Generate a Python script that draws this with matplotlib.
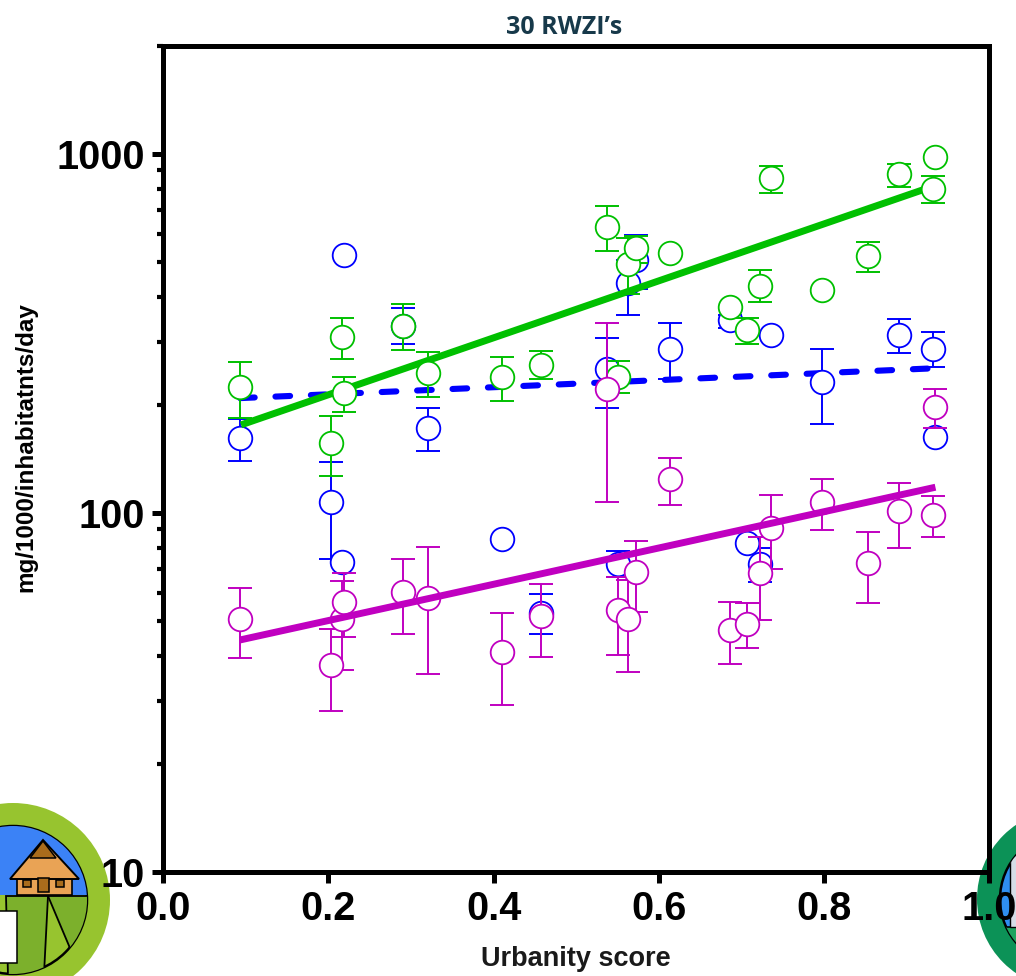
import matplotlib
matplotlib.use("Agg")
import matplotlib.pyplot as plt
from matplotlib.patches import Circle, Polygon, Rectangle, Wedge
from matplotlib.ticker import NullFormatter, FixedLocator

nan = float("nan")

# urbanity score of each treatment plant
urbanity = [.0932, .2034, .2167, .2191, .2906, .3208, .4104, .4576, .5375, .5508, .563,
            .5726, .6138, .6865, .707, .7228, .7361, .7978, .8535, .8911, .9322, .9346]

green_y = [224, 157, 309, 216, 332, 245, 239, 258, 627, 240, 493,
           547, 530, 375, 324, 430, 855, 418, 520, 879, 800, 981]
green_hi = [263, 186, 350, 239, 382, 281, 272, 283, 717, 265, 583,
            591, nan, nan, 350, 475, 926, nan, 569, 938, 868, nan]
green_lo = [184, 127, 269, 191, 284, 210, 205, 236, 537, 216, 407,
            497, nan, nan, 296, 387, 779, nan, 469, 809, 730, nan]

blue_y = [162, 107, 73, 524, 332, 172, 84.6, 52.7, 252, 72, 438,
          507, 286, 345, 82.5, 72, 313, 232, nan, 313, 286, 163]
blue_hi = [183, 139, nan, nan, 372, 196, nan, 59.5, 308, 78.4, 507,
           595, 339, 356, nan, 80, nan, 286, nan, 347, 319, nan]
blue_lo = [140, 74.5, nan, nan, 296, 149, nan, 46, 196, 66.3, 356,
           421, 236, 328, nan, 64.3, nan, 177, nan, 279, 255, nan]

magenta_y = [50.7, 37.7, 50.7, 56.5, 60.2, 58, 41, 51.7, 222, 53.7, 50.7,
             68.5, 124, 47.2, 49, 68.1, 90.8, 107, 72.5, 101, 98.7, 197]
magenta_hi = [62, 47.5, 64.7, 68.1, 74.5, 80.5, 52.7, 63.4, 339, 66.3, 65.2,
              83.6, 142, 56.5, 56, 85.5, 112, 124, 88.5, 121, 111.5, 222]
magenta_lo = [39.5, 28.1, 36.5, 45.1, 46, 35.6, 29.2, 39.8, 107, 40.2, 36,
              53, 105, 38, 42.1, 50.3, 70, 89.8, 56, 80, 86, 172]

# fitted lines, start and end
green_fit_x, green_fit_y = [.0944, .9200], [176, 796]
blue_fit_x, blue_fit_y = [.0932, .9322], [209, 253]
magenta_fit_x, magenta_fit_y = [.0932, .9346], [44.3, 118]

GREEN = "#00c000"
BLUE = "#0000ff"
MAGENTA = "#c000c0"

plt.rcParams["font.family"] = ["Liberation Sans", "DejaVu Sans"]

fig = plt.figure(figsize=(10.16, 9.76), dpi=100, facecolor="white")


# logos in the two bottom corners, in pixels
bg = fig.add_axes([0, 0, 1, 1], zorder=0)
bg.set_xlim(0, 1016)
bg.set_ylim(976, 0)
bg.axis("off")


def farm_logo():
    cx, cy = 13, 900
    bg.add_patch(Circle((cx, cy), 97, fc="#97c42f", ec="none"))
    inner = Circle((cx, cy), 74, fc="#97c42f", ec="black", lw=1.8, zorder=2)
    bg.add_patch(inner)
    sky = Wedge((cx, cy), 73, 180, 360, fc="#3b82f6", ec="none", zorder=2.1)
    bg.add_patch(sky)
    sky2 = Rectangle((-70, 826), 160, 69, fc="#3b82f6", ec="none", zorder=2.1)
    bg.add_patch(sky2)
    sky2.set_clip_path(inner)
    sky.set_visible(False)
    for pts, col in [([(48, 896), (90, 896), (87, 935), (75, 960)], "#7cb02c"),
                     ([(6, 896), (48, 896), (46, 935), (44, 974), (8, 976)], "#7cb02c")]:
        p = Polygon(pts, closed=True, fc=col, ec="black", lw=1.3, zorder=2.2)
        bg.add_patch(p)
        p.set_clip_path(inner)
    bg.add_patch(Rectangle((17, 875), 55, 20, fc="#e9a355", ec="black", lw=1.2, zorder=2.4))
    bg.add_patch(Polygon([(43, 840), (10, 879), (79, 879)], closed=True,
                         fc="#e9a355", ec="black", lw=1.4, zorder=2.5))
    bg.add_patch(Polygon([(43, 841), (30, 858), (56, 858)], closed=True,
                         fc="#a96c1c", ec="black", lw=1.1, zorder=2.6))
    bg.add_patch(Rectangle((38, 878), 11, 14, fc="#a96c1c", ec="black", lw=1.1, zorder=2.7))
    for wx in (23, 56):
        bg.add_patch(Rectangle((wx, 880), 8, 7, fc="#a96c1c", ec="black", lw=1.1, zorder=2.7))
    bg.add_patch(Rectangle((-5, 911), 22, 52, fc="white", ec="black", lw=1.1, zorder=2.8))


def city_logo():
    cx, cy = 1067, 899
    bg.add_patch(Circle((cx, cy), 90, fc="#0c9257", ec="none"))
    inner = Circle((cx, cy), 67, fc="#2f8ef0", ec="black", lw=1.8, zorder=2)
    bg.add_patch(inner)
    ground = Rectangle((990, 927), 60, 50, fc="#1fa35f", ec="black", lw=1.2, zorder=2.2)
    bg.add_patch(ground)
    ground.set_clip_path(inner)
    bld = Rectangle((1010, 855), 12, 72, fc="#d5dde6", ec="black", lw=1, zorder=2.3)
    bg.add_patch(bld)
    bld.set_clip_path(inner)


farm_logo()
city_logo()

# main plot
ax = fig.add_axes([163 / 1016, 1 - 872 / 976, (989.5 - 163) / 1016, (872 - 46) / 976], zorder=1)
ax.patch.set_alpha(0)
ax.set_xscale("linear")
ax.set_yscale("log")
ax.set_xlim(0, 1)
ax.set_ylim(10, 2000)


def draw_series(y, lo, hi, color, z):
    low = [a - b for a, b in zip(y, lo)]
    high = [b - a for a, b in zip(y, hi)]
    ax.errorbar(urbanity, y, yerr=[low, high], fmt="none", ecolor=color, elinewidth=1.4,
                capsize=8.8, capthick=1.4, zorder=z, clip_on=False)
    ax.plot(urbanity, y, "o", ms=17, mfc="white", mec=color, mew=1.3, zorder=z + 0.1,
            linestyle="none", clip_on=False)


ax.plot(blue_fit_x, blue_fit_y, color=BLUE, lw=4.4, dashes=(2.4, 3.4),
        dash_capstyle="round", zorder=2)
draw_series(blue_y, blue_lo, blue_hi, BLUE, 3)
ax.plot(green_fit_x, green_fit_y, color=GREEN, lw=5, solid_capstyle="butt", zorder=4)
draw_series(green_y, green_lo, green_hi, GREEN, 5)
draw_series(magenta_y, magenta_lo, magenta_hi, MAGENTA, 6)
ax.plot(magenta_fit_x, magenta_fit_y, color=MAGENTA, lw=5, solid_capstyle="butt", zorder=7)

for s in ax.spines.values():
    s.set_linewidth(3.6)
    s.set_color("black")

ax.set_xticks([0, .2, .4, .6, .8, 1.0])
ax.set_xticklabels(["0.0", "0.2", "0.4", "0.6", "0.8", "1.0"])
ax.yaxis.set_major_locator(FixedLocator([10, 100, 1000]))
ax.set_yticklabels(["10", "100", "1000"])
ax.yaxis.set_minor_locator(FixedLocator([20, 30, 40, 50, 60, 70, 80, 90,
                                         200, 300, 400, 500, 600, 700, 800, 900, 2000]))
ax.yaxis.set_minor_formatter(NullFormatter())
ax.tick_params(axis="both", which="major", direction="out", length=8, width=3.6, pad=5)
ax.tick_params(axis="y", which="minor", direction="out", length=4.5, width=3)
for lab in ax.get_xticklabels() + ax.get_yticklabels():
    lab.set_fontsize(28.5)
    lab.set_fontweight("bold")

fig.text(576 / 1016, 1 - 959 / 976, "Urbanity score", fontsize=19.5, fontweight="bold",
         ha="center", va="center", color="#1a1a1a")
fig.text(26 / 1016, 1 - 447 / 976, "mg/1000/inhabitatnts/day", fontsize=17.5, fontweight="bold",
         rotation=90, ha="center", va="center", color="black")
fig.text(564 / 1016, 1 - 27 / 976, "30 RWZI’s", fontsize=18, fontweight="bold",
         family=["Open Sans", "DejaVu Sans"], ha="center", va="center", color="#17394a")

fig.savefig("out.png", dpi=100)
